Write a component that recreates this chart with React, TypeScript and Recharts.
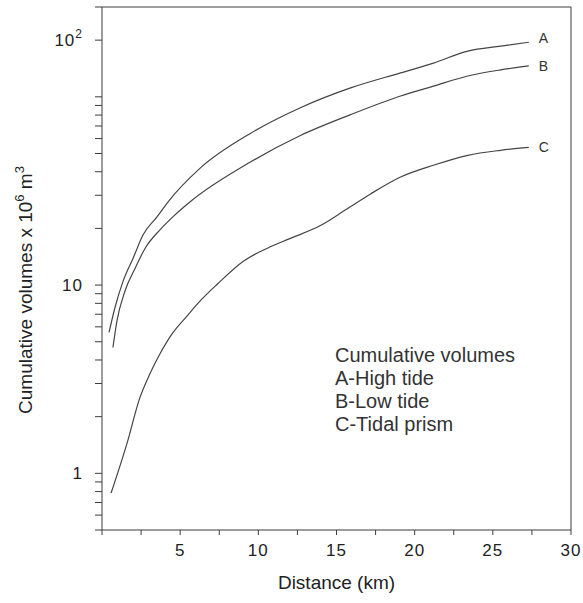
import { LineChart, Line, XAxis, YAxis, Label } from "recharts";

// distances (km) and cumulative volumes (x 10^6 m3)
const distA = [0.45, 0.83, 1.35, 1.99, 2.63, 3.53, 4.23, 6.28, 9.49, 12.69, 15.9, 19.1, 21.2, 23.4, 25.5, 27.3];
const volA = [5.6, 7.6, 10.5, 13.9, 18.5, 23.1, 27.7, 41.8, 63.9, 87.5, 111.5, 134, 151, 175, 186, 195];

const distB = [0.7, 0.96, 1.47, 2.12, 2.76, 3.72, 4.55, 5.64, 9.49, 12.69, 15.9, 19.1, 21.2, 23.4, 25.5, 27.3];
const volB = [4.66, 6.47, 9.3, 12.3, 15.7, 19.7, 23.1, 27.7, 45, 62.3, 80.4, 101, 114, 129, 139, 146];

const distC = [0.58, 1.67, 2.37, 3.08, 3.72, 4.49, 5.45, 6.28, 7.37, 9.04, 10.58, 12.05, 13.97, 15.58, 17.18, 19.1, 21.2, 23.4, 25.5, 27.3];
const volC = [0.785, 1.51, 2.45, 3.4, 4.33, 5.52, 6.87, 8.24, 10.1, 13.4, 15.7, 17.7, 20.7, 25.1, 30.5, 37.5, 43.3, 48.9, 52, 53.9];

const xTicks = [0, 2.5, 5, 7.5, 10, 12.5, 15, 17.5, 20, 22.5, 25, 27.5, 30];
const yTicks = [
  0.5, 0.6, 0.7, 0.8, 0.9,
  1, 2, 3, 4, 5, 6, 7, 8, 9,
  10, 20, 30, 40, 50, 60, 70, 80, 90,
  100, 200, 300,
];
// labels as printed on the original axis
const yLabels: Record<number, string> = { 1: "1", 10: "10", 200: "10^2" };

const legendLines = ["Cumulative volumes", "A-High tide", "B-Low tide", "C-Tidal prism"];

const FONT = "'Liberation Sans', Arial, sans-serif";
const INK = "#3c3c3c";

const toRows = (d: number[], v: number[]) => d.map((km, i) => ({ km, vol: v[i] }));
const dataA = toRows(distA, volA);
const dataB = toRows(distB, volB);
const dataC = toRows(distC, volC);

function YTick(props: any) {
  const { x, y, payload } = props;
  const lab = yLabels[payload.value];
  if (!lab) return null;
  const sup = lab.includes("^");
  const [base, exp] = lab.split("^");
  return (
    <text x={x - 10} y={y + 6} textAnchor="end" fontSize={17} fontFamily={FONT} fill="#222" letterSpacing={1}>
      {base}
      {sup && (
        <tspan dy={-8} fontSize={12}>
          {exp}
        </tspan>
      )}
    </text>
  );
}

function YTitle() {
  return (
    <text
      transform="translate(32,290) rotate(-90)"
      textAnchor="middle"
      fontSize={19}
      fontFamily={FONT}
      fill="#222"
    >
      Cumulative volumes x 10
      <tspan dy={-8} fontSize={13}>6</tspan>
      <tspan dy={8}> m</tspan>
      <tspan dy={-8} fontSize={13}>3</tspan>
    </text>
  );
}

const endLabel = (name: string, last: number, dy: number) => (p: any) =>
  p.index === last ? (
    <text x={p.x + 10} y={p.y + dy} fontSize={14} fontFamily={FONT} fill="#333">
      {name}
    </text>
  ) : null;

export default function App() {
  return (
    <div style={{ position: "absolute", left: 0, top: 0, width: 583, height: 603, background: "#fff" }}>
      <LineChart width={583} height={603} margin={{ top: 0, right: 0, bottom: 0, left: 0 }}>
        <XAxis
          xAxisId="bottom"
          dataKey="km"
          type="number"
          domain={[0, 30]}
          ticks={xTicks}
          interval={0}
          height={73}
          tickSize={5}
          tickMargin={9}
          stroke={INK}
          tick={{ fontSize: 17, fontFamily: FONT, fill: "#222", letterSpacing: 1 }}
          tickFormatter={(v: number) => (v > 0 && v % 5 === 0 ? String(v) : "")}
        >
          <Label
            value="Distance (km)"
            position="insideBottom"
            offset={14}
            style={{ fontSize: 19, fontFamily: FONT, fill: "#222" }}
          />
        </XAxis>
        <XAxis xAxisId="top" orientation="top" type="number" domain={[0, 30]} height={7} tick={false} tickLine={false} stroke={INK} />
        <YAxis
          yAxisId="left"
          scale="log"
          type="number"
          domain={[0.5, 300]}
          allowDataOverflow
          ticks={yTicks}
          interval={0}
          width={102}
          tickSize={7}
          stroke={INK}
          tick={<YTick />}
          label={<YTitle />}
        />
        <YAxis
          yAxisId="right"
          orientation="right"
          scale="log"
          type="number"
          domain={[0.5, 300]}
          allowDataOverflow
          ticks={yTicks}
          interval={0}
          width={12}
          tickSize={6}
          stroke={INK}
          tick={false}
        />
        <Line xAxisId="bottom" yAxisId="left" data={dataA} dataKey="vol" type="monotone" stroke="#444" strokeWidth={1.2} dot={false} isAnimationActive={false} label={endLabel("A", dataA.length - 1, 1)} />
        <Line xAxisId="bottom" yAxisId="left" data={dataB} dataKey="vol" type="monotone" stroke="#444" strokeWidth={1.2} dot={false} isAnimationActive={false} label={endLabel("B", dataB.length - 1, 5)} />
        <Line xAxisId="bottom" yAxisId="left" data={dataC} dataKey="vol" type="monotone" stroke="#444" strokeWidth={1.2} dot={false} isAnimationActive={false} label={endLabel("C", dataC.length - 1, 5)} />
      </LineChart>
      <div
        style={{
          position: "absolute",
          left: 335,
          top: 344,
          fontFamily: FONT,
          fontSize: 20,
          lineHeight: "23px",
          color: "#333",
        }}
      >
        {legendLines.map((t) => (
          <div key={t}>{t}</div>
        ))}
      </div>
    </div>
  );
}
